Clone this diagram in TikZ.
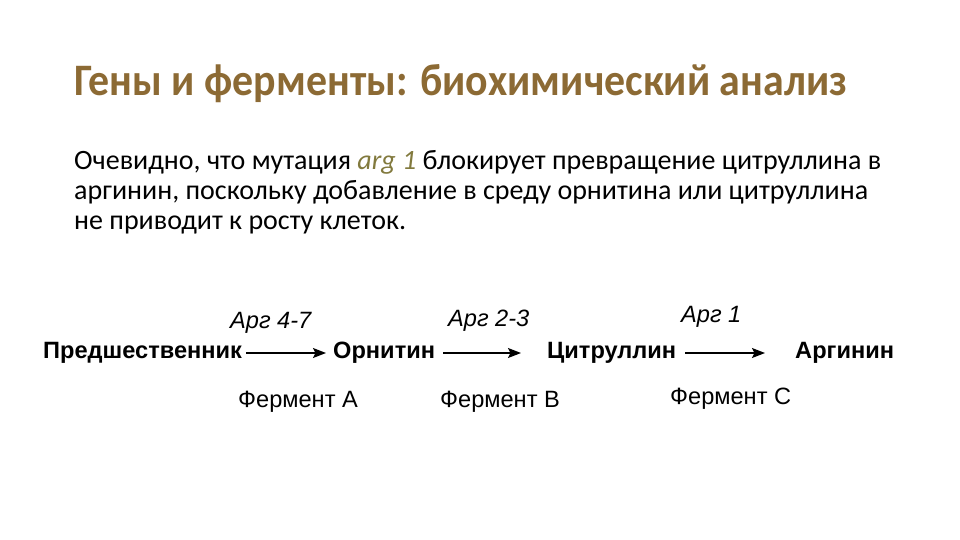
\documentclass[tikz,border=0pt]{standalone}
\usepackage{fontspec}
\usetikzlibrary{arrows.meta}
\setmainfont{Carlito}
\newfontfamily\arialf{Liberation Sans}
\definecolor{titlebrown}{RGB}{140,106,52}
\definecolor{argolive}{RGB}{130,122,62}
\begin{document}
\begin{tikzpicture}[x=1pt,y=-1pt,
  txt/.style={inner sep=0pt,anchor=base west},
  titletxt/.style={txt,font=\fontsize{45}{50}\selectfont\bfseries,text=titlebrown,xscale=0.93,transform shape},
  bodytxt/.style={txt,font=\fontsize{28}{32}\selectfont},
  metab/.style={txt,font=\arialf\bfseries\fontsize{23.6}{28}\selectfont},
  genetxt/.style={txt,font=\arialf\itshape\fontsize{23.6}{28}\selectfont},
  enztxt/.style={txt,font=\arialf\fontsize{23.6}{28}\selectfont},
  reac/.style={-{Stealth[length=13pt,width=10pt,inset=2.5pt]},line width=1.3pt}]
\useasboundingbox[fill=white] (0,0) rectangle (960,540);
\node[titletxt] (title) at (74,96) {Гены и ферменты: биохимический анализ};
\node[bodytxt] (l1) at (74,170) {Очевидно, что мутация \textcolor{argolive}{\itshape arg 1} блокирует превращение цитруллина в};
\node[bodytxt] (l2) at (74,199.5) {аргинин, поскольку добавление в среду орнитина или цитруллина};
\node[bodytxt] (l3) at (74,229) {не приводит к росту клеток.};
\node[metab] (pre) at (43,358) {Предшественник};
\node[metab] (orn) at (333,358) {Орнитин};
\node[metab] (cit) at (547,358) {Цитруллин};
\node[metab] (arg) at (795,358) {Аргинин};
\coordinate (a1s) at (246,353); \coordinate (a1e) at (326,353);
\coordinate (a2s) at (443,353); \coordinate (a2e) at (521,353);
\coordinate (a3s) at (685,353); \coordinate (a3e) at (765,353);
\draw[reac] (a1s) -- (a1e);
\draw[reac] (a2s) -- (a2e);
\draw[reac] (a3s) -- (a3e);
\node[genetxt] (g1) at (230,328) {Арг 4-7};
\node[genetxt] (g2) at (448,326) {Арг 2-3};
\node[genetxt] (g3) at (681,322) {Арг 1};
\node[enztxt] (e1) at (238,407) {Фермент А};
\node[enztxt] (e2) at (440,407) {Фермент В};
\node[enztxt] (e3) at (670,404) {Фермент С};
\end{tikzpicture}
\end{document}
